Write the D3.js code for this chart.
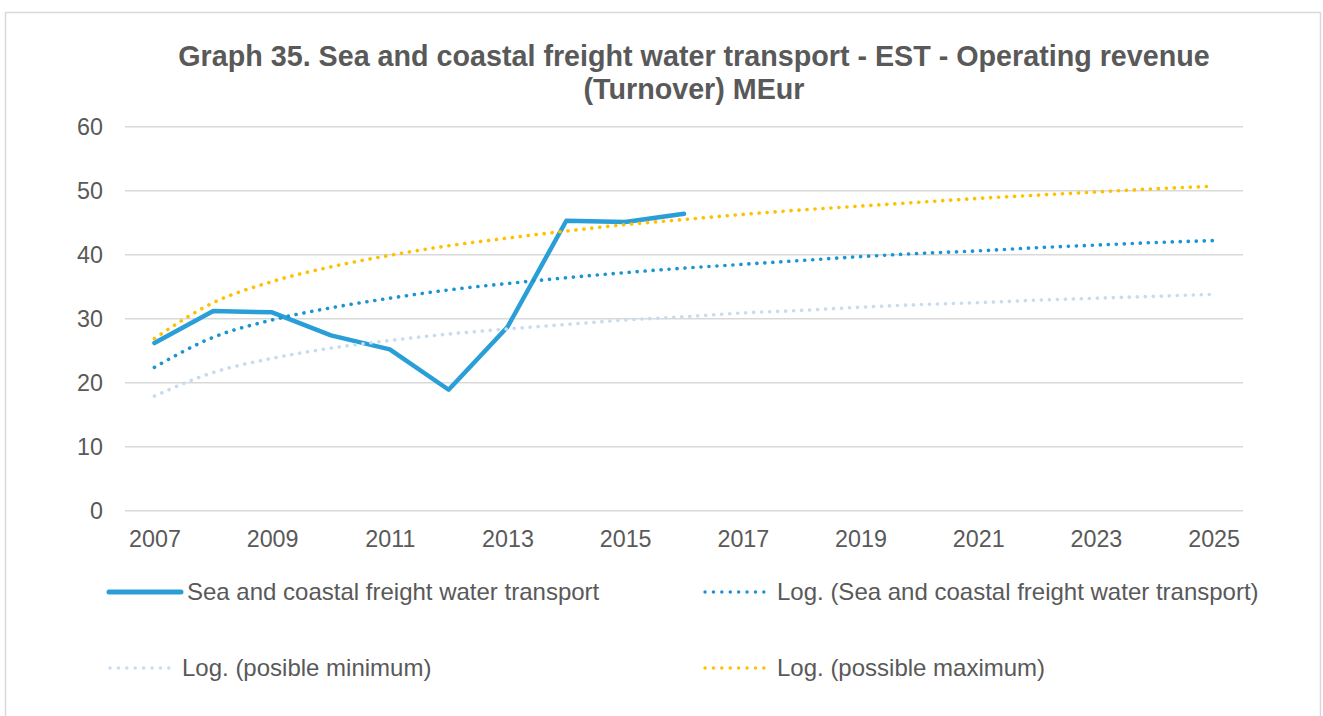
<!DOCTYPE html>
<html>
<head>
<meta charset="utf-8">
<script src="https://cdn.jsdelivr.net/npm/d3@7/dist/d3.min.js"></script>
<style>
  html, body { margin: 0; padding: 0; background: #ffffff; }
  svg { display: block; }
  text { font-family: "Liberation Sans", Arial, sans-serif; fill: #595959; }
</style>
</head>
<body>
<svg id="chart" width="1323" height="716"></svg>
<script>
// Years on the category axis
const years = d3.range(2007, 2026).map(String);
const tickYears = ["2007", "2009", "2011", "2013", "2015", "2017", "2019", "2021", "2023", "2025"];
const yTicks = [0, 10, 20, 30, 40, 50, 60];

// Operating revenue (MEur), 2007–2016
const revenueYears = ["2007", "2008", "2009", "2010", "2011", "2012", "2013", "2014", "2015", "2016"];
const revenue = [26.2, 31.2, 31.0, 27.4, 25.2, 18.9, 28.7, 45.3, 45.1, 46.4];

// Logarithmic trend lines, 2007–2025
const trendRevenue = [22.4, 27.1, 29.8, 31.7, 33.2, 34.5, 35.5, 36.4, 37.2, 37.9, 38.5, 39.1, 39.7, 40.2, 40.6, 41.1, 41.5, 41.9, 42.2];
const trendMinimum = [17.9, 21.6, 23.8, 25.4, 26.6, 27.6, 28.4, 29.1, 29.8, 30.3, 30.9, 31.3, 31.8, 32.2, 32.5, 32.9, 33.2, 33.5, 33.8];
const trendMaximum = [26.9, 32.5, 35.8, 38.1, 39.9, 41.4, 42.6, 43.7, 44.7, 45.5, 46.3, 47.0, 47.6, 48.2, 48.8, 49.3, 49.8, 50.3, 50.7];

const titleLines = [
  "Graph 35. Sea and coastal freight water transport - EST - Operating revenue",
  "(Turnover) MEur"
];
const seriesNames = [
  "Sea and coastal freight water transport",
  "Log. (Sea and coastal freight water transport)",
  "Log. (posible minimum)",
  "Log. (possible maximum)"
];

const colors = {
  revenue: "#2a9fd7",
  trendRevenue: "#1b95d2",
  trendMinimum: "#c8dcf0",
  trendMaximum: "#ffc000",
  grid: "#d9d9d9"
};

const svg = d3.select("#chart");

// Outer chart frame
svg.append("rect")
  .attr("x", 5.5).attr("y", 12.5)
  .attr("width", 1315).attr("height", 720)
  .attr("fill", "#ffffff")
  .attr("stroke", "#d9d9d9")
  .attr("stroke-width", 1.5);

const plot = { left: 125, right: 1243, top: 126.7, bottom: 510.7 };

const x = d3.scalePoint().domain(years).range([plot.left, plot.right]).padding(0.5);
const y = d3.scaleLinear().domain([0, 60]).range([plot.bottom, plot.top]);

// Title
svg.append("text")
  .attr("text-anchor", "middle")
  .style("font-weight", "bold")
  .style("font-size", "28.7px")
  .selectAll("tspan")
  .data(titleLines)
  .join("tspan")
  .attr("x", 694)
  .attr("y", (d, i) => 66 + i * 33)
  .text(d => d);

// Horizontal gridlines
svg.append("g")
  .selectAll("line")
  .data(yTicks)
  .join("line")
  .attr("x1", plot.left).attr("x2", plot.right)
  .attr("y1", d => y(d)).attr("y2", d => y(d))
  .attr("stroke", colors.grid)
  .attr("stroke-width", 1.5);

// Value axis labels
const yAxis = d3.axisLeft(y).tickValues(yTicks).tickSize(0).tickPadding(0);
const gy = svg.append("g").attr("transform", `translate(${plot.left - 22},0)`).call(yAxis);
gy.select(".domain").remove();
gy.selectAll("text")
  .style("font-size", "23.3px")
  .style("font-family", "'Liberation Sans', Arial, sans-serif")
  .attr("fill", "#595959")
  .attr("dy", "0.35em");

// Category axis labels
const xAxis = d3.axisBottom(x).tickValues(tickYears).tickSize(0).tickPadding(0);
const gx = svg.append("g").attr("transform", `translate(0,${plot.bottom})`).call(xAxis);
gx.select(".domain").remove();
gx.selectAll("text")
  .style("font-size", "23.3px")
  .style("font-family", "'Liberation Sans', Arial, sans-serif")
  .attr("fill", "#595959")
  .attr("y", 36)
  .attr("dy", 0);

// Revenue series
const revLine = d3.line()
  .x((d, i) => x(revenueYears[i]))
  .y(d => y(d));

svg.append("path")
  .datum(revenue)
  .attr("d", revLine)
  .attr("fill", "none")
  .attr("stroke", colors.revenue)
  .attr("stroke-width", 4.5)
  .attr("stroke-linejoin", "round")
  .attr("stroke-linecap", "round");

// Trend lines
const trendLine = d3.line()
  .x((d, i) => x(years[i]))
  .y(d => y(d))
  .curve(d3.curveMonotoneX);

const trends = [
  { values: trendRevenue, color: colors.trendRevenue },
  { values: trendMinimum, color: colors.trendMinimum },
  { values: trendMaximum, color: colors.trendMaximum }
];

svg.append("g")
  .selectAll("path")
  .data(trends)
  .join("path")
  .attr("d", d => trendLine(d.values))
  .attr("fill", "none")
  .attr("stroke", d => d.color)
  .attr("stroke-width", 3.6)
  .attr("stroke-linecap", "round")
  .attr("stroke-dasharray", "0.1 7.9");

// Legend
const legendItems = [
  { name: seriesNames[0], color: colors.revenue, dotted: false, x: 109, y: 592 },
  { name: seriesNames[1], color: colors.trendRevenue, dotted: true, x: 705, y: 592 },
  { name: seriesNames[2], color: colors.trendMinimum, dotted: true, x: 110, y: 668 },
  { name: seriesNames[3], color: colors.trendMaximum, dotted: true, x: 705, y: 668 }
];

const lg = svg.append("g")
  .selectAll("g")
  .data(legendItems)
  .join("g")
  .attr("transform", d => `translate(${d.x},${d.y})`);

lg.append("line")
  .attr("x1", 0)
  .attr("x2", d => d.dotted ? 67 : 72)
  .attr("y1", 0).attr("y2", 0)
  .attr("stroke", d => d.color)
  .attr("stroke-width", d => d.dotted ? 3.4 : 5)
  .attr("stroke-linecap", "round")
  .attr("stroke-dasharray", d => d.dotted ? "0.1 8.3" : null);

lg.append("text")
  .attr("x", d => d.dotted ? 72 : 78)
  .attr("y", 8)
  .style("font-size", "24px")
  .text(d => d.name);
</script>
</body>
</html>
